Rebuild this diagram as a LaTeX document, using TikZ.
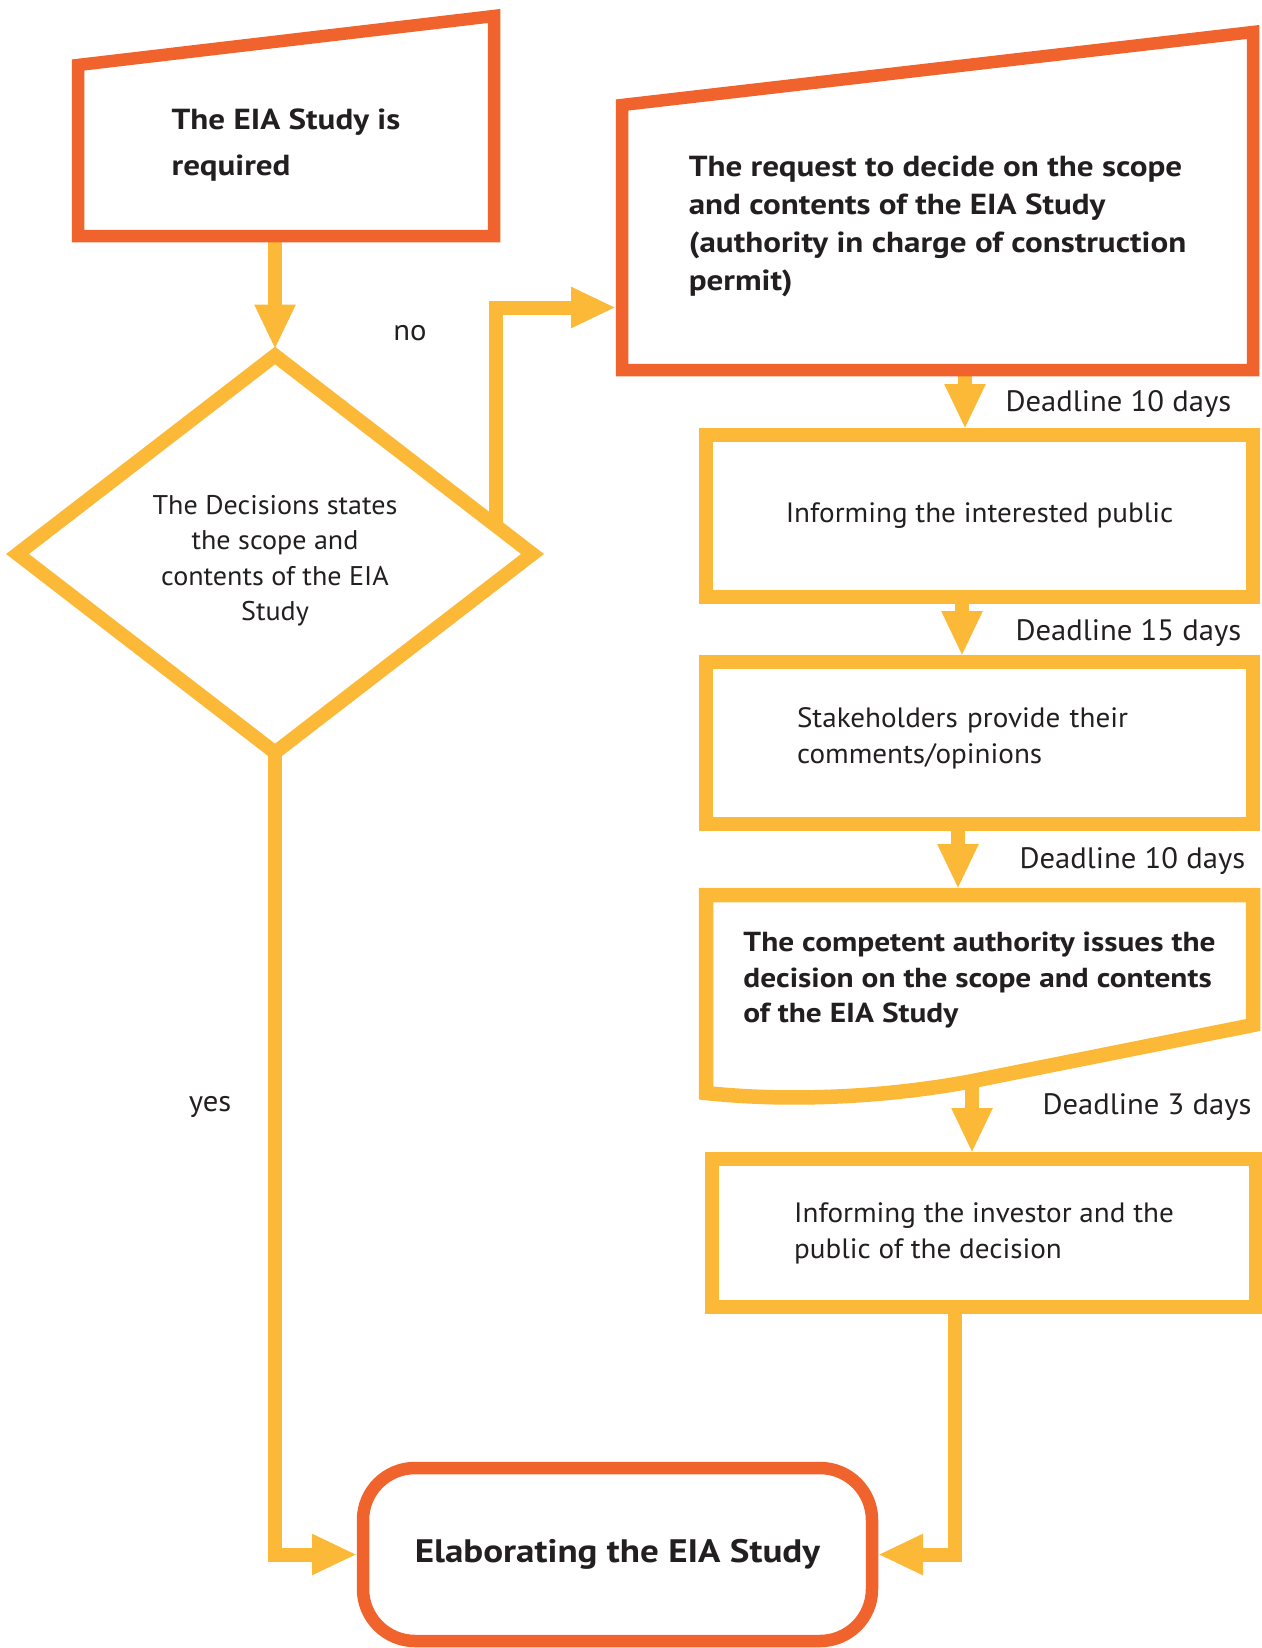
\documentclass[tikz,border=0pt]{standalone}
\usepackage{fontspec}
\setmainfont{PT Sans}[FakeStretch=1.04, BoldFeatures={FakeStretch=1.14}]
\usepackage{tikz}
\usetikzlibrary{shapes.geometric, arrows.meta, positioning, calc}
\definecolor{eiaorange}{RGB}{241,99,45}
\definecolor{eiayellow}{RGB}{252,185,56}
\definecolor{eiatext}{RGB}{35,31,32}

\begin{document}
\begin{tikzpicture}[
        x=1pt, y=-1pt,
        box/.style={rectangle, inner sep=0pt, outer sep=0pt, align=left, text=eiatext, font=\fontsize{28}{36}\selectfont},
        framed/.style={box, draw=eiayellow, line width=14.5pt},
        hand/.style={draw=eiaorange, line width=12.5pt},
        paper/.style={draw=eiayellow, line width=14.5pt},
        flow/.style={draw=eiayellow, line width=14pt, shorten >=6pt, -{Triangle[length=45pt, width=38pt]}},
        note/.style={anchor=west, text=eiatext, font=\fontsize{29.5}{34}\selectfont}
    ]
    \useasboundingbox (0,0) rectangle (1261,1648);

    % ================= LEFT COLUMN =================
    \node[box, minimum width=416pt, minimum height=171pt, text depth=16pt, font=\bfseries\fontsize{29}{46}\selectfont] (required) at (286,150.5) {The EIA Study is\\required};
    \node[diamond, draw=eiayellow, line width=14pt, inner sep=0pt, outer sep=0pt, minimum width=515pt, minimum height=397pt, aspect=1.3, align=center, text=eiatext, text height=139pt, font=\fontsize{27}{35.5}\selectfont] (decision) at (275,554) {The Decisions states\\the scope and\\contents of the EIA\\Study};

    % ================= RIGHT COLUMN =================
    \node[box, minimum width=631pt, minimum height=265pt, text depth=29pt, font=\bfseries\fontsize{29}{38}\selectfont] (request) at (937.5,237.5) {The request to decide on the scope\\and contents of the EIA Study\\(authority in charge of construction\\permit)};
    \node[framed, minimum width=547pt, minimum height=162pt] (inform) at (979.5,516) {Informing the interested public};
    \node[framed, minimum width=547pt, minimum height=162pt, text width=365pt, text depth=51.5pt] (stake) at (979.5,743) {Stakeholders provide their\\comments/opinions};
    \node[box, minimum width=547pt, minimum height=188pt, text depth=23pt, font=\bfseries\fontsize{27.5}{35.5}\selectfont] (issue) at (979.5,989) {The competent authority issues the\\decision on the scope and contents\\of the EIA Study};
    \node[framed, minimum width=544pt, minimum height=148pt] (notify) at (984,1233) {Informing the investor and the\\public of the decision};

    % ================= BOTTOM =================
    \node[box, draw=eiaorange, line width=12.5pt, rounded corners=52pt, minimum width=509pt, minimum height=173pt, align=center, font=\bfseries\fontsize{32.5}{40}\selectfont] (elab) at (617.5,1554.5) {Elaborating the EIA Study};

    % Connections
    \coordinate (col1) at (965,0);
    \coordinate (col2) at (962,0);
    \coordinate (col3) at (958,0);
    \coordinate (col4) at (972,0);
    \coordinate (col5) at (955,0);

    \path[flow] (required.south -| decision.north) -- (decision.north);
    \path[flow] ($(decision.north)!0.86!(decision.east)$) |- ($(request.west)+(0,70)$);
    \path[flow] (request.south -| col1) -- (inform.north -| col1);
    \path[flow] (inform.south -| col2) -- (stake.north -| col2);
    \path[flow] (stake.south -| col3) -- (issue.north -| col3);
    \path[flow] (issue.south -| col4) -- (notify.north -| col4);
    \path[flow] (notify.south -| col5) |- (elab.east);
    \path[flow] (decision.south) |- (elab.west);

    % Outlines with slanted top / wavy bottom
    \draw[hand] (required.south west) -- (required.north west) -- ($(required.north east)+(0,-49)$) -- (required.south east) -- cycle;
    \draw[hand] (request.south west) -- (request.north west) -- ($(request.north east)+(0,-73)$) -- (request.south east) -- cycle;
    \draw[paper] ($(issue.south west)+(0,10)$) -- (issue.north west) -- (issue.north east) -- ($(issue.south east)+(0,-58)$) -- ($(issue.south)+(-7,-2)$)
        .. controls ($(issue.south)+(-80,12)$) and ($(issue.south west)+(94,20)$) .. ($(issue.south west)+(0,10)$) -- cycle;

    % Labels
    \node[note] (dl1) at (1002,404) {Deadline 10 days};
    \node[note] (dl2) at (1012,633) {Deadline 15 days};
    \node[note] (dl3) at (1016,861) {Deadline 10 days};
    \node[note] (dl4) at (1039,1107) {Deadline 3 days};
    \node[note, anchor=center] (lblyes) at (210,1107) {yes};
    \node[note, anchor=center] (lblno) at (410,333) {no};

\end{tikzpicture}
\end{document}
